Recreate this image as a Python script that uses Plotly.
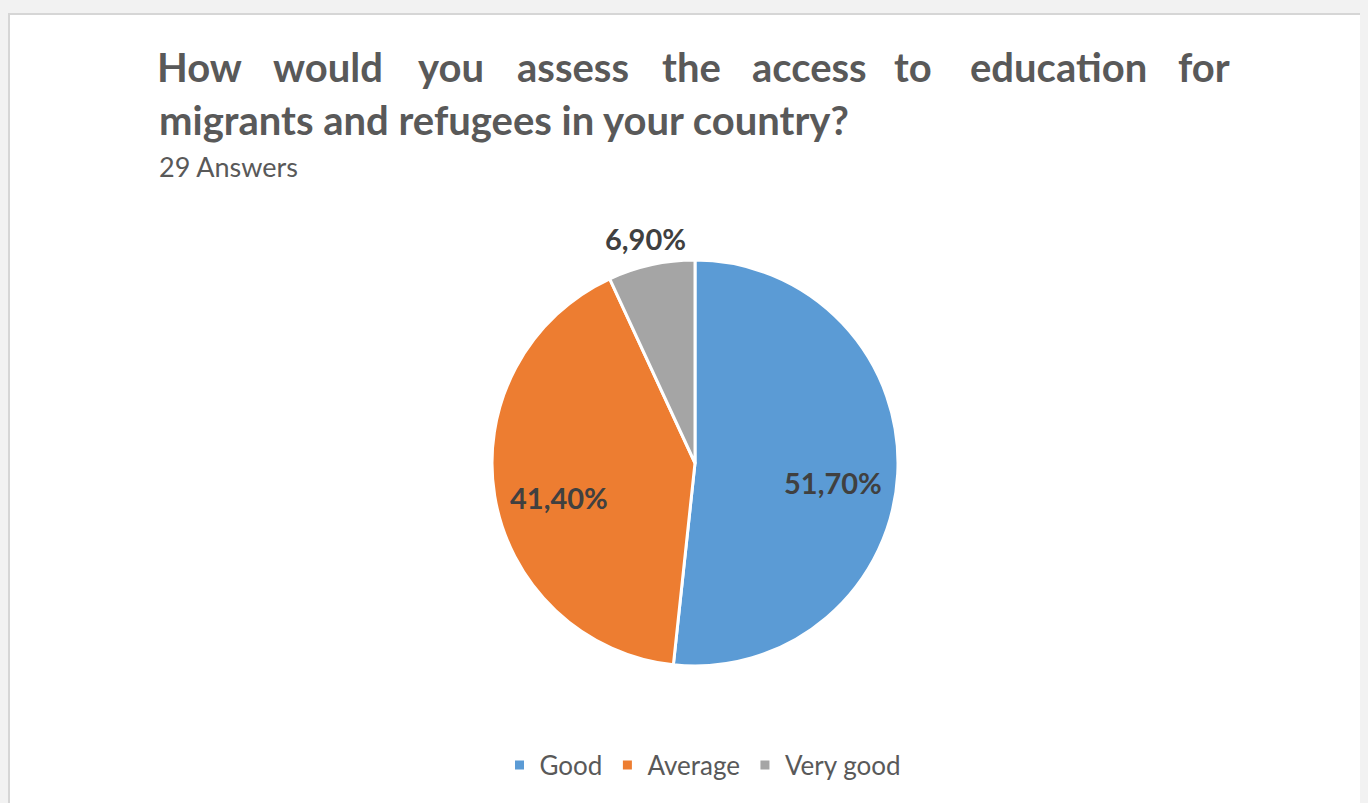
import math
import plotly.graph_objects as go

categories = ["Good", "Average", "Very good"]
values = [51.7, 41.4, 6.9]
colors = ["#5B9BD5", "#ED7D31", "#A5A5A5"]
label_pos = ["inside", "inside", "outside"]
title_line1_words = ["How", "would", "you", "assess", "the", "access", "to", "education", "for"]
title_line2 = "migrants and refugees in your country?"
subtitle = "29 Answers"

# figure sits at (8, 8) in the page because of the default body margin
OFF = 8
W, H = 1360, 795
FONT = "Lato"


def px(x):
    return (x - OFF) / W


def py(y):
    return 1 - (y - OFF) / H


labels_text = [("%.2f%%" % v).replace(".", ",") for v in values]

CX, CY, R = 695, 463, 203

fig = go.Figure()
fig.add_trace(go.Pie(
    labels=categories,
    values=values,
    textinfo="none",
    sort=False,
    direction="clockwise",
    rotation=0,
    marker=dict(colors=colors, line=dict(color="white", width=3)),
    domain=dict(x=[px(CX - R), px(CX + R)], y=[py(CY + R), py(CY - R)]),
    hoverinfo="label+percent",
))

# white frame
shapes = [dict(type="rect", xref="paper", yref="paper",
               x0=1 / W, x1=1.05, y0=-0.05, y1=1 - 6 / H,
               fillcolor="white", line=dict(color="#d6d6d6", width=2), layer="below")]

annotations = []
# justified first title line (word centres in px)
centres = [199, 327.5, 450.5, 572.5, 691.5, 809, 913, 1058, 1204]
for w, x in zip(title_line1_words, centres):
    annotations.append(dict(text="<b>%s</b>" % w, x=px(x), y=py(67),
                            xref="paper", yref="paper", xanchor="center", yanchor="middle",
                            showarrow=False, font=dict(family=FONT, size=40, color="#595959")))
annotations.append(dict(text="<b>%s</b>" % title_line2, x=px(157), y=py(120),
                        xref="paper", yref="paper", xanchor="left", yanchor="middle",
                        showarrow=False, font=dict(family=FONT, size=40, color="#595959")))
annotations.append(dict(text=subtitle, x=px(157), y=py(167),
                        xref="paper", yref="paper", xanchor="left", yanchor="middle",
                        showarrow=False, font=dict(family=FONT, size=27, color="#595959")))

# data labels at the slice mid-angles
total = sum(values)
cum = 0.0
radius_factor = {"inside": 0.68, "outside": 1.13}
y_adjust = {"inside": 12, "outside": 0}
for v, t, pos in zip(values, labels_text, label_pos):
    mid = (cum + v / 2) / total * 2 * math.pi
    cum += v
    r = R * radius_factor[pos]
    lx = CX + r * math.sin(mid)
    ly = CY - r * math.cos(mid) + y_adjust[pos]
    annotations.append(dict(text="<b>%s</b>" % t, x=px(lx), y=py(ly),
                            xref="paper", yref="paper", xanchor="center", yanchor="middle",
                            showarrow=False, font=dict(family=FONT, size=29, color="#404040")))

fig.update_layout(
    width=W, height=H,
    margin=dict(l=0, r=0, t=0, b=0),
    paper_bgcolor="#f2f2f2",
    plot_bgcolor="white",
    shapes=shapes,
    annotations=annotations,
    showlegend=True,
    legend=dict(orientation="h", x=px(703), y=py(765), xanchor="center", yanchor="middle",
                font=dict(family=FONT, size=26, color="#595959"), bgcolor="rgba(0,0,0,0)",
                itemwidth=30, traceorder="normal"),
)

fig.write_html("out.html", post_script="document.body.style.background='#f2f2f2';")
